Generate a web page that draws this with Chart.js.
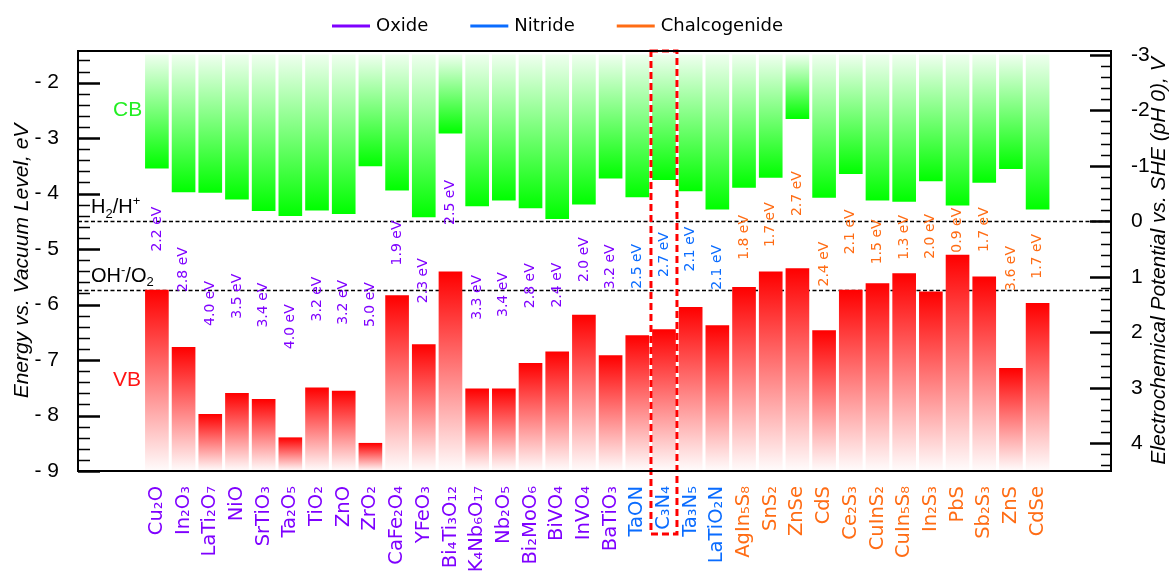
<!DOCTYPE html>
<html>
<head>
<meta charset="utf-8">
<script src="https://cdn.jsdelivr.net/npm/chart.js@4.4.1/dist/chart.umd.min.js"></script>
<style>
  html, body { margin: 0; padding: 0; background: #fff; }
</style>
</head>
<body>
<canvas id="bands" width="1172" height="571"></canvas>
<script>
// photocatalyst band edges, energies vs. vacuum level (eV)
const materials = [
  'Cu₂O', 'In₂O₃', 'LaTi₂O₇', 'NiO', 'SrTiO₃', 'Ta₂O₅', 'TiO₂', 'ZnO', 'ZrO₂', 'CaFe₂O₄',
  'YFeO₃', 'Bi₄Ti₃O₁₂', 'K₄Nb₆O₁₇', 'Nb₂O₅', 'Bi₂MoO₆', 'BiVO₄', 'InVO₄', 'BaTiO₃',
  'TaON', 'C₃N₄', 'Ta₃N₅', 'LaTiO₂N',
  'AgIn₅S₈', 'SnS₂', 'ZnSe', 'CdS', 'Ce₂S₃', 'CuInS₂', 'CuIn₅S₈', 'In₂S₃', 'PbS', 'Sb₂S₃', 'ZnS', 'CdSe'
];
const families = [
  'Oxide', 'Oxide', 'Oxide', 'Oxide', 'Oxide', 'Oxide', 'Oxide', 'Oxide', 'Oxide', 'Oxide',
  'Oxide', 'Oxide', 'Oxide', 'Oxide', 'Oxide', 'Oxide', 'Oxide', 'Oxide',
  'Nitride', 'Nitride', 'Nitride', 'Nitride',
  'Chalcogenide', 'Chalcogenide', 'Chalcogenide', 'Chalcogenide', 'Chalcogenide', 'Chalcogenide',
  'Chalcogenide', 'Chalcogenide', 'Chalcogenide', 'Chalcogenide', 'Chalcogenide', 'Chalcogenide'
];
const cbEdge = [
  -3.54, -3.97, -3.98, -4.10, -4.31, -4.40, -4.30, -4.36, -3.50, -3.94,
  -4.42, -2.91, -4.22, -4.12, -4.26, -4.45, -4.19, -3.72,
  -4.06, -3.75, -3.95, -4.28,
  -3.89, -3.71, -2.65, -4.07, -3.64, -4.12, -4.14, -3.77, -4.21, -3.80, -3.55, -4.28
];
const bandGap = [
  2.2, 2.8, 4.0, 3.5, 3.4, 4.0, 3.2, 3.2, 5.0, 1.9,
  2.3, 2.5, 3.3, 3.4, 2.8, 2.4, 2.0, 3.2,
  2.5, 2.7, 2.1, 2.1,
  1.8, 1.7, 2.7, 2.4, 2.1, 1.5, 1.3, 2.0, 0.9, 1.7, 3.6, 1.7
];
const vbEdge = cbEdge.map((c, i) => +(c - bandGap[i]).toFixed(2));

const energyTicks = [-9, -8, -7, -6, -5, -4, -3, -2];
const potentialTicks = [-3, -2, -1, 0, 1, 2, 3, 4];
const familyNames = ['Oxide', 'Nitride', 'Chalcogenide'];
const familyColors = { Oxide: '#7F00FF', Nitride: '#0A6CFF', Chalcogenide: '#FF6C14' };

const E_MIN = -9, E_MAX = -1.43, CB_TOP = -1.5;
const H2_LEVEL = -4.5, O2_LEVEL = -5.73;   // H2/H+ and OH-/O2 (pH 0)
const highlight = 'C₃N₄';

// 0.2 steps between the labelled values, used for the minor tick marks
function fineSteps(from, to) {
  const out = [];
  for (let k = 0; from + k * 0.2 <= to + 1e-9; k++) out.push(+(from + k * 0.2).toFixed(1));
  return out;
}
const isMajor = v => Math.abs(v - Math.round(v)) < 1e-6;

function bandFill(ctx, kind) {
  const chart = ctx.chart;
  if (!chart.chartArea || ctx.type !== 'data') return kind === 'cb' ? '#6f6' : '#f66';
  const ys = chart.scales.y;
  const [a, b] = ctx.raw.y;
  const top = ys.getPixelForValue(Math.max(a, b));
  const bottom = ys.getPixelForValue(Math.min(a, b));
  const g = chart.ctx.createLinearGradient(0, top, 0, bottom);
  if (kind === 'cb') {
    g.addColorStop(0, 'rgb(238,255,238)');
    g.addColorStop(1, 'rgb(0,255,0)');
  } else {
    g.addColorStop(0, 'rgb(255,0,0)');
    g.addColorStop(1, 'rgb(255,252,252)');
  }
  return g;
}

// text with sub/superscript pieces, e.g. [['H'], ['2', 'sub']]
function richText(ctx, parts, x, y, size, family) {
  parts.forEach(([t, mode]) => {
    const s = mode ? size * 0.65 : size;
    ctx.font = `${s}px "${family}"`;
    const dy = mode === 'sub' ? size * 0.22 : mode === 'sup' ? -size * 0.4 : 0;
    ctx.fillText(t, x, y + dy);
    x += ctx.measureText(t).width;
  });
}

const decor = {
  id: 'decor',
  beforeDatasetsDraw(chart) {
    const { ctx, chartArea: area, scales: { y } } = chart;
    ctx.save();
    ctx.strokeStyle = '#000';
    ctx.lineWidth = 1.5;
    ctx.setLineDash([4, 2.5]);
    [H2_LEVEL, O2_LEVEL].forEach(v => {
      const py = Math.round(y.getPixelForValue(v)) + 0.5;
      ctx.beginPath();
      ctx.moveTo(area.left, py);
      ctx.lineTo(area.right, py);
      ctx.stroke();
    });
    ctx.restore();
  },
  afterDatasetsDraw(chart) {
    const { ctx, chartArea: area, scales: { x, y } } = chart;
    ctx.save();
    // band gap values between the edges
    ctx.font = '14px "DejaVu Sans"';
    ctx.textAlign = 'center';
    ctx.textBaseline = 'middle';
    materials.forEach((m, i) => {
      const px = x.getPixelForValue(i);
      const py = (y.getPixelForValue(cbEdge[i]) + y.getPixelForValue(vbEdge[i])) / 2;
      ctx.save();
      ctx.translate(px, py);
      ctx.rotate(-Math.PI / 2);
      ctx.fillStyle = familyColors[families[i]];
      ctx.fillText(bandGap[i].toFixed(1) + ' eV', 0, 0);
      ctx.restore();
    });

    ctx.textAlign = 'left';
    ctx.font = '21px "Liberation Sans"';
    ctx.fillStyle = '#22EE22';
    ctx.fillText('CB', area.left + 35, y.getPixelForValue(-2.5));
    ctx.fillStyle = '#FF1414';
    ctx.fillText('VB', area.left + 35, y.getPixelForValue(-7.37));

    ctx.fillStyle = '#000';
    ctx.textBaseline = 'alphabetic';
    richText(ctx, [['H'], ['2', 'sub'], ['/H'], ['+', 'sup']],
      area.left + 13, y.getPixelForValue(H2_LEVEL) - 8, 20, 'Liberation Sans');
    richText(ctx, [['OH'], ['-', 'sup'], ['/O'], ['2', 'sub']],
      area.left + 13, y.getPixelForValue(O2_LEVEL) - 8, 20, 'Liberation Sans');
    ctx.restore();
  },
  afterDraw(chart) {
    const { ctx, chartArea: area, scales: { x, y, y2 } } = chart;
    ctx.save();

    // dotted box around the highlighted material and its label
    const hx = x.getPixelForValue(materials.indexOf(highlight));
    ctx.strokeStyle = '#FF0000';
    ctx.lineWidth = 3;
    ctx.setLineDash([7, 4]);
    ctx.strokeRect(hx - 13, area.top, 26, area.bottom + 63 - area.top);
    ctx.setLineDash([]);

    // plot frame and inward ticks
    ctx.strokeStyle = '#000';
    ctx.lineWidth = 2;
    ctx.strokeRect(area.left, area.top, area.right - area.left, area.bottom - area.top);
    y.ticks.forEach(t => {
      const py = Math.round(y.getPixelForValue(t.value)) + 0.5;
      const major = isMajor(t.value);
      ctx.lineWidth = major ? 2.5 : 1.5;
      ctx.beginPath();
      ctx.moveTo(area.left, py);
      ctx.lineTo(area.left + (major ? 22 : 12), py);
      ctx.stroke();
    });
    y2.ticks.forEach(t => {
      const py = Math.round(y2.getPixelForValue(t.value)) + 0.5;
      const major = isMajor(t.value);
      ctx.lineWidth = major ? 2.5 : 1.5;
      ctx.beginPath();
      ctx.moveTo(area.right, py);
      ctx.lineTo(area.right - (major ? 21 : 10), py);
      ctx.stroke();
    });

    // right axis title, reading upwards
    ctx.save();
    ctx.translate(1159, (area.top + area.bottom) / 2);
    ctx.rotate(-Math.PI / 2);
    ctx.font = 'italic 21px "Liberation Sans"';
    ctx.fillStyle = '#000';
    ctx.textAlign = 'center';
    ctx.textBaseline = 'middle';
    ctx.fillText('Electrochemical Potential vs. SHE (pH 0), V', 0, 0);
    ctx.restore();

    // legend
    ctx.font = '18px "DejaVu Sans"';
    ctx.textBaseline = 'middle';
    ctx.textAlign = 'left';
    let lx = 332;
    familyNames.forEach(name => {
      ctx.strokeStyle = familyColors[name];
      ctx.lineWidth = 3;
      ctx.beginPath();
      ctx.moveTo(lx, 26);
      ctx.lineTo(lx + 38, 26);
      ctx.stroke();
      ctx.fillStyle = '#000';
      ctx.fillText(name, lx + 44, 26);
      lx += 44 + ctx.measureText(name).width + 42;
    });
    ctx.restore();
  }
};

new Chart(document.getElementById('bands'), {
  type: 'bar',
  data: {
    datasets: [
      {
        label: 'CB',
        data: materials.map((m, i) => ({ x: i, y: [CB_TOP, cbEdge[i]] })),
        backgroundColor: c => bandFill(c, 'cb'),
        grouped: false,
        barThickness: 23,
        borderWidth: 0
      },
      {
        label: 'VB',
        data: materials.map((m, i) => ({ x: i, y: [vbEdge[i], E_MIN] })),
        backgroundColor: c => bandFill(c, 'vb'),
        grouped: false,
        barThickness: 23,
        borderWidth: 0
      }
    ]
  },
  options: {
    responsive: false,
    animation: false,
    layout: { padding: { top: 51, left: 0, right: 0, bottom: 0 } },
    plugins: { legend: { display: false }, tooltip: { enabled: false } },
    scales: {
      x: {
        type: 'linear',
        min: -2.956,
        max: 35.75,
        offset: false,
        grid: { display: false },
        border: { display: false },
        afterBuildTicks: s => { s.ticks = materials.map((m, i) => ({ value: i })); },
        afterFit: s => { s.height = 100; },
        ticks: {
          autoSkip: false,
          minRotation: 90,
          maxRotation: 90,
          padding: 7,
          font: { family: 'DejaVu Sans', size: 19.5 },
          color: c => familyColors[families[c.index]],
          callback: v => materials[v]
        }
      },
      y: {
        type: 'linear',
        position: 'left',
        min: E_MIN,
        max: E_MAX,
        grid: { display: false },
        border: { display: false },
        afterBuildTicks: s => { s.ticks = fineSteps(E_MIN, -1.6).map(v => ({ value: v })); },
        afterFit: s => { s.width = 78; },
        ticks: {
          autoSkip: false,
          padding: 11,
          color: '#000',
          font: { family: 'Liberation Sans', size: 21 },
          callback: v => energyTicks.includes(Math.round(v)) && isMajor(v) ? '- ' + Math.abs(Math.round(v)) : ''
        },
        title: {
          display: true,
          text: 'Energy vs. Vacuum Level, eV',
          color: '#000',
          font: { family: 'Liberation Sans', size: 21, style: 'italic' },
          padding: { top: 10, bottom: 0 }
        }
      },
      y2: {
        type: 'linear',
        position: 'right',
        reverse: true,
        min: -(E_MAX - H2_LEVEL),
        max: -(E_MIN - H2_LEVEL),
        grid: { display: false },
        border: { display: false },
        afterBuildTicks: s => { s.ticks = fineSteps(-3, 4.4).map(v => ({ value: v })); },
        afterFit: s => { s.width = 61; },
        ticks: {
          autoSkip: false,
          padding: 12,
          color: '#000',
          font: { family: 'Liberation Sans', size: 21 },
          callback: v => potentialTicks.includes(Math.round(v)) && isMajor(v) ? String(Math.round(v)) : ''
        }
      }
    }
  },
  plugins: [decor]
});
</script>
</body>
</html>
